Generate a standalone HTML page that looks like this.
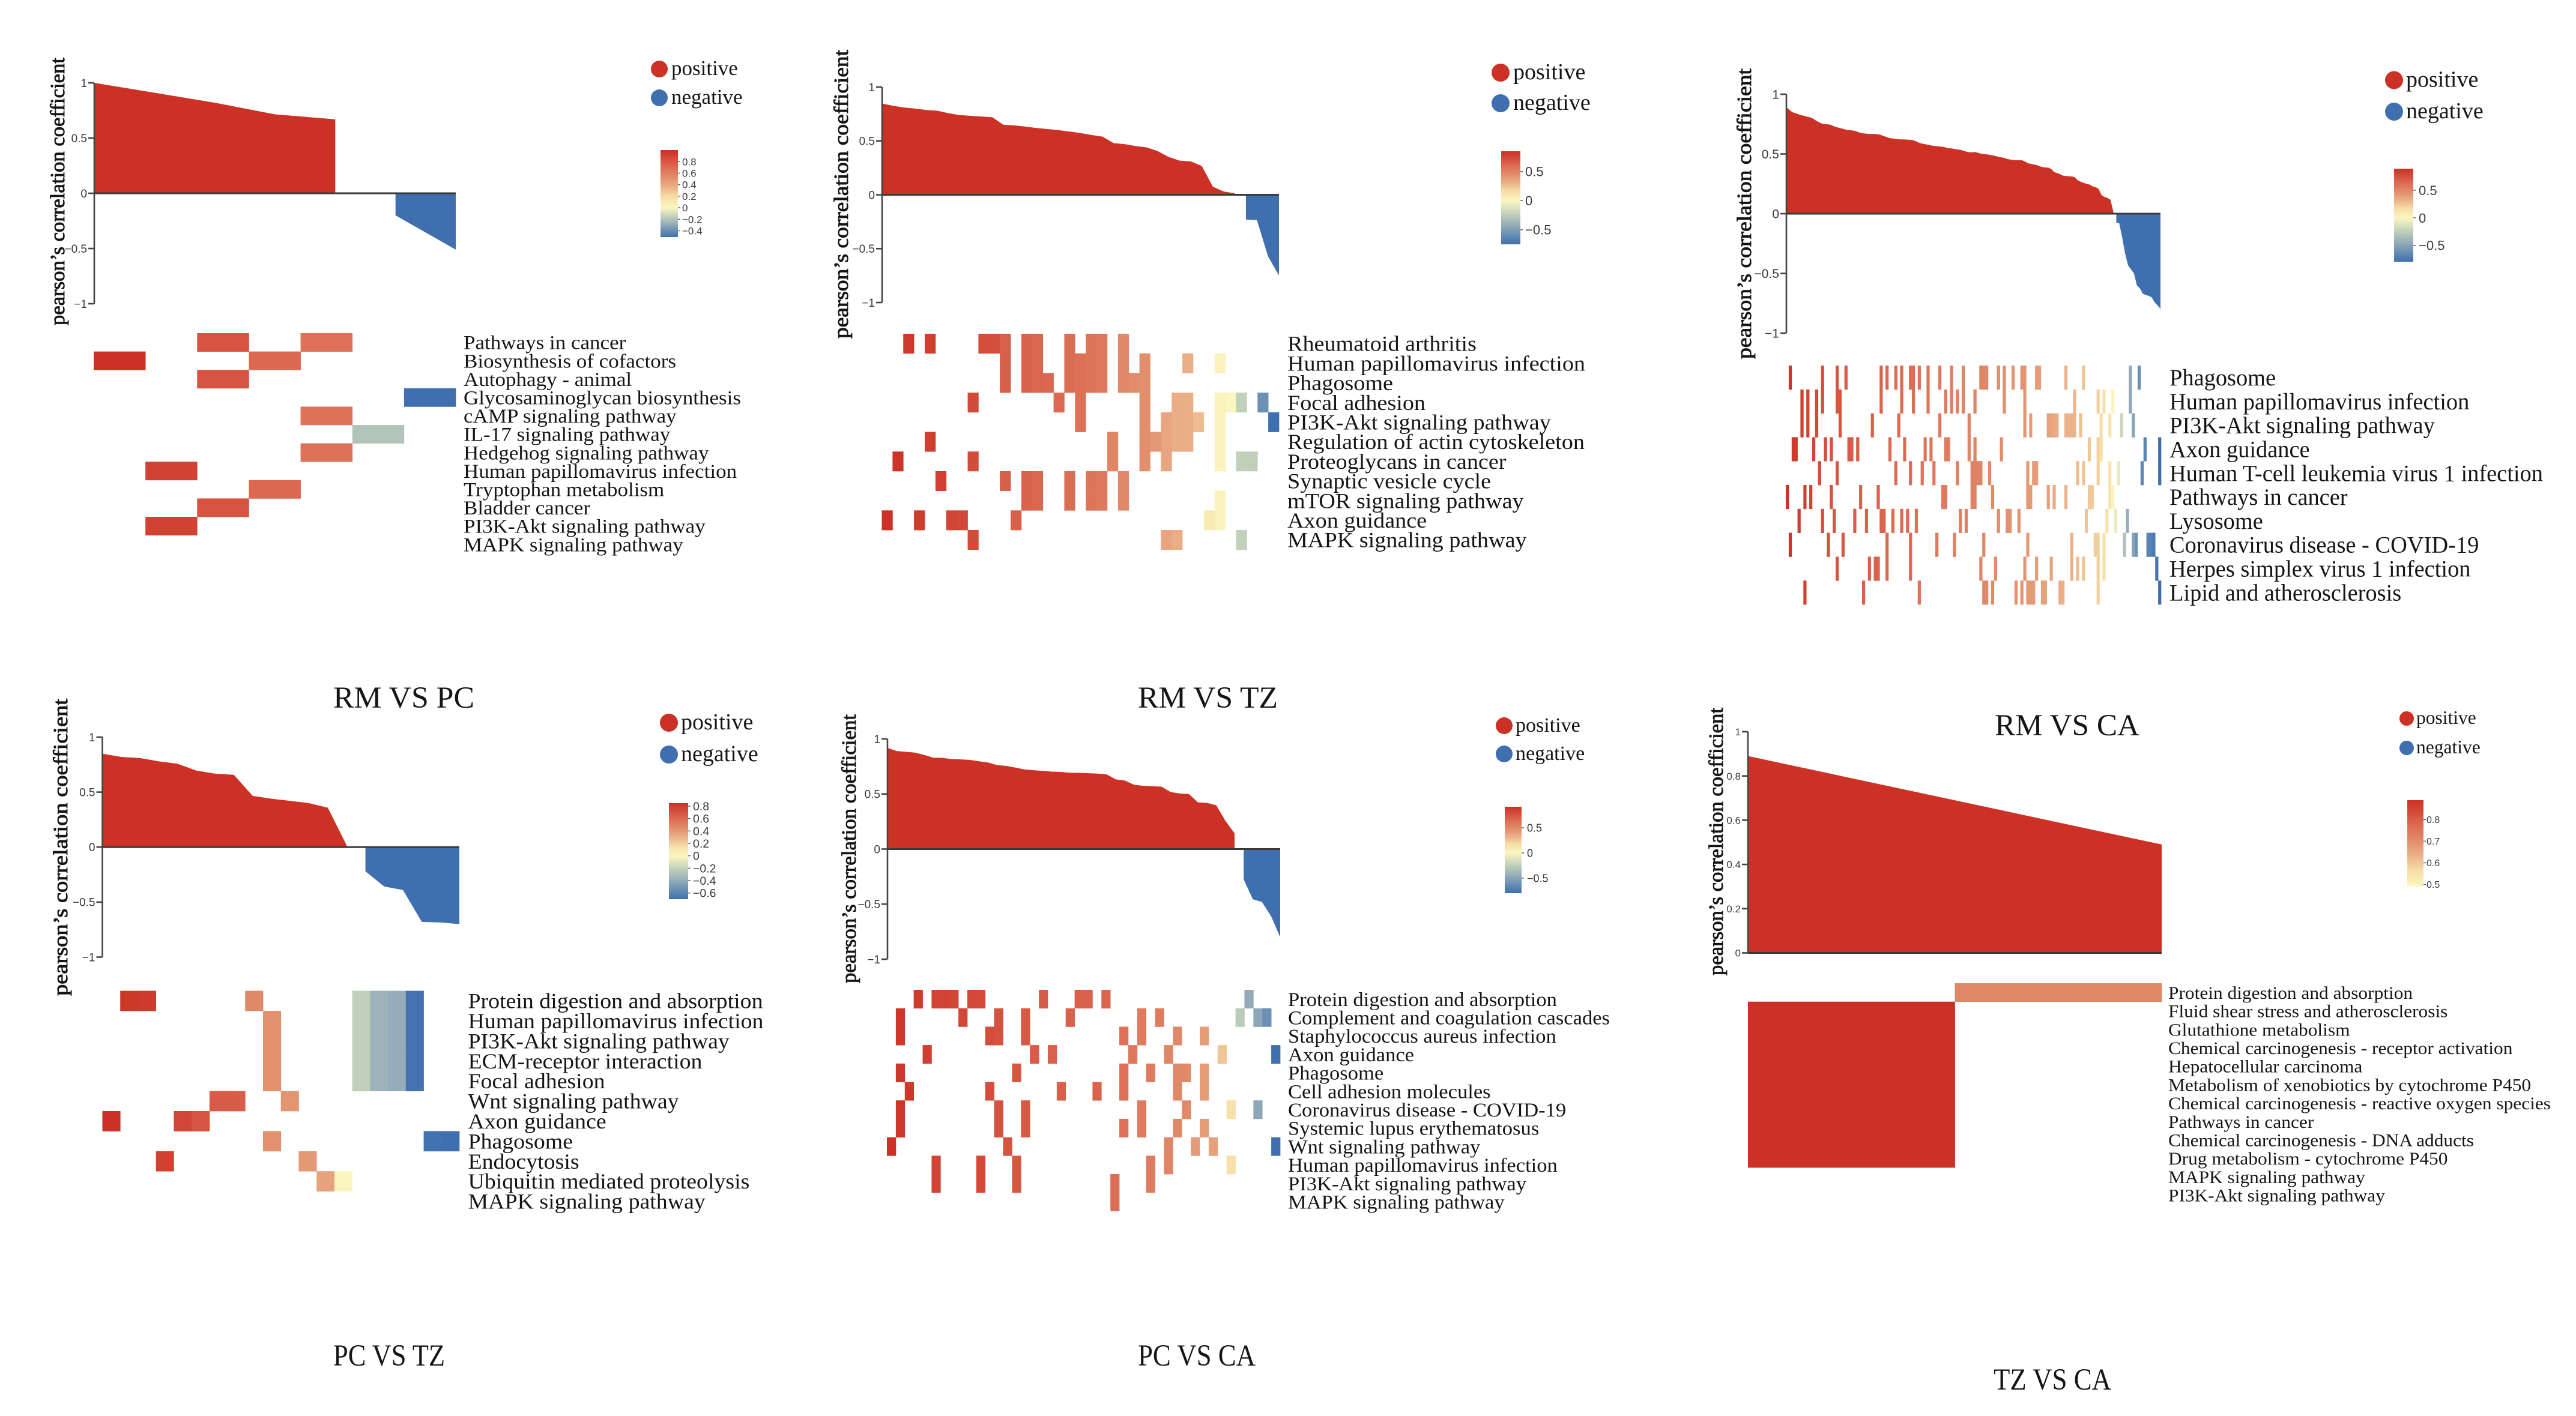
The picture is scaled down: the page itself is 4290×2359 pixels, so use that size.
<!DOCTYPE html>
<html lang="en">
<head>
<meta charset="utf-8">
<title>Pearson correlation pathway panels</title>
<style>
html,body{margin:0;padding:0;background:#fff;width:4290px;height:2359px;overflow:hidden}
svg{display:block}
text{font-family:"Liberation Serif",serif;fill:#151515}
.tick{font-family:"Liberation Sans",sans-serif;fill:#3a3a3a}
</style>
</head>
<body>
<svg id="figure" xmlns="http://www.w3.org/2000/svg" width="4290" height="2359" viewBox="0 0 4290 2359">
<rect x="0" y="0" width="4290" height="2359" fill="#ffffff"/>
</svg>
<script>
/* ---------- RM VS PC ---------- */
const rmPcValues = [1.0,0.91,0.82,0.715,0.67,-0.2,-0.51];
const rmPcLabels = ["Pathways in cancer","Biosynthesis of cofactors","Autophagy - animal","Glycosaminoglycan biosynthesis","cAMP signaling pathway","IL-17 signaling pathway","Hedgehog signaling pathway","Human papillomavirus infection","Tryptophan metabolism","Bladder cancer","PI3K-Akt signaling pathway","MAPK signaling pathway"];
const rmPcCells = [[2,4],[0,3],[2],[6],[4],[5],[4],[1],[3],[2],[1],[]];
const rmPcAxisTicks = [1,0.5,0,-0.5,-1];
const rmPcBarTicks = [0.8,0.6,0.4,0.2,0,-0.2,-0.4];

/* ---------- RM VS TZ ---------- */
const rmTzValues = [0.847,0.826,0.81,0.80,0.787,0.78,0.758,0.74,0.733,0.726,0.72,0.65,0.644,0.633,0.62,0.61,0.60,0.587,0.573,0.555,0.54,0.48,0.47,0.452,0.44,0.405,0.35,0.317,0.31,0.267,0.075,0.03,0.014,-0.23,-0.235,-0.57,-0.75];
const rmTzLabels = ["Rheumatoid arthritis","Human papillomavirus infection","Phagosome","Focal adhesion","PI3K-Akt signaling pathway","Regulation of actin cytoskeleton","Proteoglycans in cancer","Synaptic vesicle cycle","mTOR signaling pathway","Axon guidance","MAPK signaling pathway"];
const rmTzCells = [
[2,4,9,10,11,13,14,17,19,20,22],
[11,13,14,17,18,19,20,22,24,28,31],
[11,13,14,15,17,18,19,20,22,23,24],
[8,16,18,24,27,28,31,32,33,35],
[18,24,26,27,28,29,31,36],
[4,21,24,25,26,27,28,31],
[1,8,21,24,26,31,33,34],
[5,11,13,14,17,19,20,22],
[13,14,17,19,20,22,31],
[0,3,6,7,12,30,31],
[8,26,27,33]];
const rmTzAxisTicks = [1,0.5,0,-0.5,-1];
const rmTzBarTicks = [0.5,0,-0.5];

/* ---------- RM VS CA ---------- */
const rmCaValues = [0.892,0.870,0.850,0.842,0.833,0.825,0.820,0.812,0.807,0.797,0.780,0.767,0.755,0.750,0.748,0.745,0.733,0.725,0.718,0.712,0.705,0.700,0.698,0.695,0.687,0.678,0.673,0.670,0.668,0.668,0.667,0.665,0.660,0.650,0.642,0.633,0.630,0.627,0.623,0.622,0.622,0.620,0.618,0.615,0.607,0.595,0.587,0.582,0.577,0.572,0.567,0.565,0.563,0.560,0.555,0.547,0.547,0.542,0.538,0.535,0.528,0.520,0.515,0.513,
0.517,0.51,0.503,0.50,0.497,0.493,0.488,0.482,0.477,0.472,0.467,0.458,0.453,0.45,0.448,0.447,0.447,0.437,0.423,0.417,0.412,0.407,0.397,0.39,0.387,0.385,0.372,0.348,0.34,0.33,0.318,0.315,0.313,0.312,0.303,0.278,0.267,0.257,0.25,0.243,0.228,0.222,0.208,0.155,0.14,0.132,0.117,0.017,
-0.075,-0.08,-0.2,-0.333,-0.433,-0.467,-0.50,-0.60,-0.625,-0.67,-0.68,-0.688,-0.70,-0.742,-0.767,-0.797];
const rmCaLabels = ["Phagosome","Human papillomavirus infection","PI3K-Akt signaling pathway","Axon guidance","Human T-cell leukemia virus 1 infection","Pathways in cancer","Lysosome","Coronavirus disease - COVID-19","Herpes simplex virus 1 infection","Lipid and atherosclerosis"];
const rmCaCells = [
[1,12,17,20,32,34,37,39,42,43,45,48,52,56,60,66,67,68,72,74,77,80,81,85,86,95,101,117,120],
[5,7,10,12,17,18,32,39,43,48,54,56,58,60,64,74,81,98,106,108,111,117],
[5,7,10,18,29,38,52,62,81,83,89,90,91,92,95,96,97,98,100,107,110,114,118],
[2,3,9,13,15,21,22,24,35,40,47,49,54,55,62,64,73,103,106,107,122,127],
[11,17,37,42,46,50,58,63,64,65,66,69,82,84,85,99,101,106,110,113,121,127],
[0,6,8,15,25,31,53,54,63,64,70,82,83,89,91,95,103,104,110,111],
[4,12,16,23,27,32,33,36,39,41,44,59,61,72,75,76,79,102,109,112,116],
[1,14,19,34,42,51,57,67,82,97,105,106,108,115,118,119,123,124,125],
[17,28,30,31,34,42,66,71,81,85,90,97,99,101,106,108,126],
[6,26,45,67,68,70,78,80,82,83,84,87,88,93,94,106,127]];
const rmCaAxisTicks = [1,0.5,0,-0.5,-1];
const rmCaBarTicks = [0.5,0,-0.5];

/* ---------- PC VS TZ ---------- */
const pcTzValues = [0.849,0.82,0.81,0.78,0.758,0.696,0.668,0.657,0.466,0.44,0.42,0.40,0.358,0.017,-0.22,-0.358,-0.39,-0.68,-0.685,-0.70];
const pcTzLabels = ["Protein digestion and absorption","Human papillomavirus infection","PI3K-Akt signaling pathway","ECM-receptor interaction","Focal adhesion","Wnt signaling pathway","Axon guidance","Phagosome","Endocytosis","Ubiquitin mediated proteolysis","MAPK signaling pathway"];
const pcTzCells = [
[1,2,8,14,15,16,17],
[9,14,15,16,17],
[9,14,15,16,17],
[9,14,15,16,17],
[9,14,15,16,17],
[6,7,10],
[0,4,5],
[9,18,19],
[3,11],
[12,13],
[]];
const pcTzAxisTicks = [1,0.5,0,-0.5,-1];
const pcTzBarTicks = [0.8,0.6,0.4,0.2,0,-0.2,-0.4,-0.6];

/* ---------- PC VS CA ---------- */
const pcCaValues = [0.918,0.89,0.883,0.876,0.855,0.83,0.828,0.817,0.814,0.81,0.797,0.786,0.762,0.755,0.74,0.723,0.716,0.71,0.703,0.70,0.692,0.692,0.689,0.685,0.678,0.633,0.622,0.584,0.574,0.57,0.567,0.518,0.504,0.50,0.424,0.419,0.397,0.257,0.143,-0.275,-0.456,-0.48,-0.61,-0.80];
const pcCaLabels = ["Protein digestion and absorption","Complement and coagulation cascades","Staphylococcus aureus infection","Axon guidance","Phagosome","Cell adhesion molecules","Coronavirus disease - COVID-19","Systemic lupus erythematosus","Wnt signaling pathway","Human papillomavirus infection","PI3K-Akt signaling pathway","MAPK signaling pathway"];
const pcCaCells = [
[3,5,6,7,9,10,17,21,22,24,40],
[1,8,12,15,20,28,30,39,41,42],
[1,11,12,15,26,28,32,35],
[4,16,18,27,31,37,43],
[1,14,26,29,32,33,35],
[2,11,19,23,26,32,35],
[1,12,15,28,33,38,41],
[1,12,15,26,28,32,35],
[0,13,31,34,36,43],
[5,10,14,29,31,38],
[5,10,14,25,29],
[25]];
const pcCaAxisTicks = [1,0.5,0,-0.5,-1];
const pcCaBarTicks = [0.5,0,-0.5];

/* ---------- TZ VS CA ---------- */
const tzCaValues = [0.89,0.49];
const tzCaLabels = ["Protein digestion and absorption","Fluid shear stress and atherosclerosis","Glutathione metabolism","Chemical carcinogenesis - receptor activation","Hepatocellular carcinoma","Metabolism of xenobiotics by cytochrome P450","Chemical carcinogenesis - reactive oxygen species","Pathways in cancer","Chemical carcinogenesis - DNA adducts","Drug metabolism - cytochrome P450","MAPK signaling pathway","PI3K-Akt signaling pathway"];
const tzCaCells = [[1],[0],[0],[0],[0],[0],[0],[0],[0],[0],[],[]];
const tzCaAxisTicks = [1,0.8,0.6,0.4,0.2,0];
const tzCaBarTicks = [0.8,0.7,0.6,0.5];

/* ---------- legend and title text ---------- */
const legendNames = ["positive","negative"];
const yAxisTitle = "pearson\u2019s correlation coefficient";

/* ---------- panel layout (frame geometry only) ---------- */
const panels = [
 {id:"rm-vs-pc",title:"RM VS PC",titleBox:[555,1179,235],values:rmPcValues,labels:rmPcLabels,cells:rmPcCells,axisTicks:rmPcAxisTicks,barTicks:rmPcBarTicks,
  x0:157,x1:759,yTop:138,yBottom:506,domTop:1,domBottom:-1,yTitle:[107,96,446],
  heat:[156,759,555,30.6],labelX:772,labelFs:33,labelW:462,
  legend:[1098,115,163,14,1118,35],bar:[1100,250,29,145,1136,17,false],tickFs:19},
 {id:"rm-vs-tz",title:"RM VS TZ",titleBox:[1895,1179,233],values:rmTzValues,labels:rmTzLabels,cells:rmTzCells,axisTicks:rmTzAxisTicks,barTicks:rmTzBarTicks,
  x0:1469,x1:2130,yTop:145,yBottom:504,domTop:1,domBottom:-1,yTitle:[1412,83,481],
  heat:[1468.5,2130,556,32.7],labelX:2144,labelFs:36,labelW:496,
  legend:[2499,121,172,15,2520,38],bar:[2500,252,32,155,2540,22,false],tickFs:19},
 {id:"rm-vs-ca",title:"RM VS CA",titleBox:[3322,1225,241],values:rmCaValues,labels:rmCaLabels,cells:rmCaCells,axisTicks:rmCaAxisTicks,barTicks:rmCaBarTicks,
  x0:2975,x1:3598,yTop:157,yBottom:555,domTop:1,domBottom:-1,yTitle:[2916,114,484],
  heat:[2974,3599,609,39.8],labelX:3613,labelFs:39,labelW:622,
  legend:[3987,133.5,186,15,4007,38],bar:[3987,281,32,155,4028,22,false],tickFs:21},
 {id:"pc-vs-tz",title:"PC VS TZ",titleBox:[555,2275,186],values:pcTzValues,labels:pcTzLabels,cells:pcTzCells,axisTicks:pcTzAxisTicks,barTicks:pcTzBarTicks,
  x0:170.5,x1:765,yTop:1228,yBottom:1594.5,domTop:1,domBottom:-1,yTitle:[112,1164,495],
  heat:[170.5,765,1650.6,33.4],labelX:779.5,labelFs:36,labelW:492,
  legend:[1114,1204,1257,15,1134,38],bar:[1114,1338,32,160,1154,19.5,false],tickFs:19},
 {id:"pc-vs-ca",title:"PC VS CA",titleBox:[1895,2275,196],values:pcCaValues,labels:pcCaLabels,cells:pcCaCells,axisTicks:pcCaAxisTicks,barTicks:pcCaBarTicks,
  x0:1478,x1:2132,yTop:1231,yBottom:1598,domTop:1,domBottom:-1,yTitle:[1425,1190,448],
  heat:[1477,2132,1649,30.7],labelX:2145,labelFs:33,labelW:536,
  legend:[2505,1209,1256,14,2524,34],bar:[2506,1344,28,144,2543,18,false],tickFs:19},
 {id:"tz-vs-ca",title:"TZ VS CA",titleBox:[3320,2315,196],values:tzCaValues,labels:tzCaLabels,cells:tzCaCells,axisTicks:tzCaAxisTicks,barTicks:tzCaBarTicks,
  x0:2911,x1:3600,yTop:1219,yBottom:1587.5,domTop:1,domBottom:0,yTitle:[2869,1179,446],
  heat:[2911,3600,1638,30.7],labelX:3611,labelFs:30,labelW:637,
  legend:[4008,1197,1246,12,4024,31.5],bar:[4009,1333,27,144,4041,16,true],tickFs:17}
];

/* ---------- colours ---------- */
const RED = "#cb3124", BLUE = "#3f6fae";
const posStops = [[0,[251,247,193]],[0.2,[246,219,164]],[0.35,[235,178,137]],[0.55,[224,137,104]],[0.7,[220,108,84]],[0.85,[212,78,59]],[1,[203,49,36]]];
const negStops = [[0,[251,247,193]],[0.33,[188,205,187]],[0.55,[151,174,185]],[0.76,[107,146,181]],[1,[63,111,174]]];
function ramp(stops,t){
  t = Math.max(0,Math.min(1,t));
  for(let i=1;i<stops.length;i++){
    if(t<=stops[i][0]){
      const a=stops[i-1],b=stops[i],f=(t-a[0])/(b[0]-a[0]);
      return "rgb("+a[1].map((c,k)=>Math.round(c+(b[1][k]-c)*f)).join(",")+")";
    }
  }
  const last=stops[stops.length-1][1];
  return "rgb("+last.join(",")+")";
}
function heatColor(v,vmax,vmin){
  if(v>=0) return ramp(posStops,v/vmax);
  return ramp(negStops,v/vmin);
}

/* ---------- drawing ---------- */
const SVGNS="http://www.w3.org/2000/svg";
const root=document.getElementById("figure");
function make(parent,tag,attrs,txt){
  const el=document.createElementNS(SVGNS,tag);
  for(const k in attrs) el.setAttribute(k,attrs[k]);
  if(txt!==undefined) el.textContent=txt;
  parent.appendChild(el);
  return el;
}
function fmt(v){ return (v<0?"\u2212":"")+String(Math.abs(v)); }

panels.forEach(function(p){
  const g=make(root,"g",{});
  
  

  const vmax=Math.max.apply(null,p.values), vmin=Math.min.apply(null,p.values), n=p.values.length;
  const xScale=i=>p.x0+i*(p.x1-p.x0)/(n-1);
  const yScale=v=>p.yTop+(p.domTop-v)*(p.yBottom-p.yTop)/(p.domTop-p.domBottom);
  const y0=yScale(0);

  /* areas: one closed shape per run of same-signed values */
  let i=0;
  while(i<n){
    const sign=p.values[i]>=0;
    let j=i;
    while(j+1<n && (p.values[j+1]>=0)===sign) j++;
    let d="M"+xScale(i).toFixed(2)+" "+y0.toFixed(2);
    for(let k=i;k<=j;k++) d+=" L"+xScale(k).toFixed(2)+" "+yScale(p.values[k]).toFixed(2);
    d+=" L"+xScale(j).toFixed(2)+" "+y0.toFixed(2)+" Z";
    const area=make(g,"path",{d:d,fill:sign?RED:BLUE});
    
    
    i=j+1;
  }

  /* axes */
  const axis=make(g,"line",{x1:p.x0,x2:p.x0,y1:p.yTop,y2:p.yBottom,stroke:"#444",'stroke-width':2.6});
  
  
  const zero=make(g,"line",{x1:p.x0,x2:p.x1,y1:y0,y2:y0,stroke:"#3a3a3a",'stroke-width':3});
  
  
  p.axisTicks.forEach(function(t){
    const y=yScale(t);
    const mark=make(g,"line",{x1:p.x0-10,x2:p.x0,y1:y,y2:y,stroke:"#444",'stroke-width':2.6});
    
    
    const lab=make(g,"text",{class:"tick",x:p.x0-12,y:y+p.tickFs*0.36,'text-anchor':"end",'font-size':p.tickFs},fmt(t));
    
    
  });

  /* y title */
  const yt=p.yTitle;
  const yTitleEl=make(g,"text",{transform:"translate("+yt[0]+","+(yt[1]+yt[2])+") rotate(-90)",'font-size':34,'stroke':"#151515",'stroke-width':0.9,textLength:yt[2],lengthAdjust:"spacingAndGlyphs"},yAxisTitle);
  
  

  /* heatmap: columns share the series order; colour comes from the series value */
  const h=p.heat, cw=(h[1]-h[0])/n, rh=h[3];
  p.cells.forEach(function(cols,r){
    cols.forEach(function(c){
      const cell=make(g,"rect",{x:h[0]+c*cw,y:h[2]+r*rh,width:cw+0.35,height:rh+0.35,fill:heatColor(p.values[c],vmax,vmin)});
      
      
    });
  });

  /* pathway labels, fitted to the measured label column width */
  const labelEls=p.labels.map(function(txt,r){
    const t=make(g,"text",{x:p.labelX,y:h[2]+(r+0.5)*rh+p.labelFs*0.3+1.5,'font-size':p.labelFs},txt);
    
    
    return t;
  });
  const lens=labelEls.map(t=>t.getComputedTextLength());
  const sx=p.labelW/Math.max.apply(null,lens);
  labelEls.forEach(function(t,k){
    t.setAttribute("textLength",(lens[k]*sx).toFixed(1));
    t.setAttribute("lengthAdjust","spacingAndGlyphs");
  });

  /* legend */
  const L=p.legend;
  legendNames.forEach(function(name,k){
    const cy=k===0?L[1]:L[2];
    const entry=make(g,"g",{});
    
    
    const dot=make(entry,"circle",{cx:L[0],cy:cy,r:L[3],fill:k===0?RED:BLUE});
    
    
    const t=make(entry,"text",{x:L[4],y:cy+L[5]*0.29,'font-size':L[5]},name);
    
    
  });

  /* colour bar */
  const B=p.bar, gradId="grad-"+p.id;
  const defs=make(g,"defs",{});
  const grad=make(defs,"linearGradient",{id:gradId,x1:0,y1:0,x2:0,y2:1});
  for(let s=0;s<=40;s++){
    const v=vmax-(vmax-vmin)*s/40;
    const col=B[6]?ramp(posStops,(v-vmin)/(vmax-vmin)):heatColor(v,vmax,vmin);
    make(grad,"stop",{offset:(s/40).toFixed(3),'stop-color':col});
  }
  const barRect=make(g,"rect",{x:B[0],y:B[1],width:B[2],height:B[3],fill:"url(#"+gradId+")"});
  
  
  p.barTicks.forEach(function(t){
    const y=B[1]+(vmax-t)/(vmax-vmin)*B[3];
    const mark=make(g,"line",{x1:B[0]+B[2],x2:B[0]+B[2]+4,y1:y,y2:y,stroke:"#666",'stroke-width':1.5});
    
    
    const lab=make(g,"text",{class:"tick",x:B[4],y:y+B[5]*0.36,'font-size':B[5]},fmt(t));
    
    
  });

  /* comparison title */
  const T=p.titleBox;
  const title=make(g,"text",{x:T[0],y:T[1],'font-size':51,textLength:T[2],lengthAdjust:"spacingAndGlyphs"},p.title);
  
  
});
</script>
</body>
</html>
